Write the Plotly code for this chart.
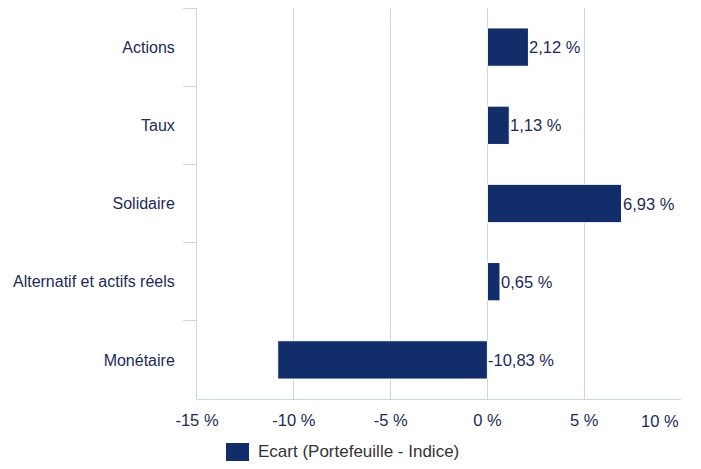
import plotly.graph_objects as go

categories = ["Actions", "Taux", "Solidaire", "Alternatif et actifs réels", "Monétaire"]
ecart = [2.12, 1.13, 6.93, 0.65, -10.83]
x_ticks = [-15, -10, -5, 0, 5, 10]
x_tick_labels = ["-15 %", "-10 %", "-5 %", "0 %", "5 %", "10 %"]
series_name = "Ecart (Portefeuille - Indice)"

bar_color = "#112d6a"
grid_color = "#ccd6eb"
text_color = "#1b2a59"
font_family = "Liberation Sans, Arial, sans-serif"

fig = go.Figure()
fig.add_trace(go.Bar(
    y=categories,
    x=ecart,
    orientation="h",
    marker=dict(color=bar_color, line=dict(color="white", width=1)),
    name=series_name,
    showlegend=False,
))

# value labels, placed right of the bar end (or of zero for negatives)
for cat, v in zip(categories, ecart):
    fig.add_annotation(
        x=max(v, 0), y=cat,
        text=f"{v:.2f}".replace(".", ",") + " %",
        showarrow=False, xanchor="left", xshift=-1,
        font=dict(size=16.5, color=text_color, family=font_family),
    )

# last x tick label is right-aligned on its gridline (like Highcharts)
tick_text = x_tick_labels[:-1] + [""]
fig.add_annotation(
    x=x_ticks[-1], xref="x", yref="paper", y=0, yshift=-22,
    text=x_tick_labels[-1], showarrow=False, xanchor="right", yanchor="middle",
    font=dict(size=16.5, color=text_color, family=font_family),
)

# legend drawn by hand so the swatch is the same large square
fig.add_shape(
    type="rect", xref="paper", yref="paper",
    x0=(218 - 189) / 484, x1=(241 - 189) / 484,
    y0=-0.1586, y1=-0.1125,
    fillcolor=bar_color, line=dict(width=0),
)
fig.add_annotation(
    xref="paper", yref="paper", x=(248 - 189) / 484, y=-0.1355,
    text=series_name, showarrow=False, xanchor="left", yanchor="middle",
    font=dict(size=17, color="#333333", family=font_family),
)

fig.update_layout(
    width=693, height=461,
    margin=dict(l=189, r=20, t=0, b=70),
    plot_bgcolor="white", paper_bgcolor="white",
    bargap=0.51,
    font=dict(family=font_family, size=16, color=text_color),
    showlegend=False,
)

fig.update_xaxes(
    range=[-15, 10],
    tickvals=x_ticks, ticktext=tick_text,
    showgrid=True, gridcolor=grid_color, gridwidth=1,
    zeroline=False,
    showline=True, linecolor=grid_color, linewidth=1,
    ticks="", ticklabelstandoff=6,
    tickfont=dict(size=16.5, color=text_color),
)

fig.update_yaxes(
    type="category", autorange="reversed",
    tickson="boundaries", ticks="outside", ticklen=13, tickcolor=grid_color,
    showgrid=False, zeroline=False,
    showline=True, linecolor=grid_color, linewidth=1,
    ticklabelstandoff=18,
    tickfont=dict(size=16, color=text_color),
)

fig.write_html("out.html")
